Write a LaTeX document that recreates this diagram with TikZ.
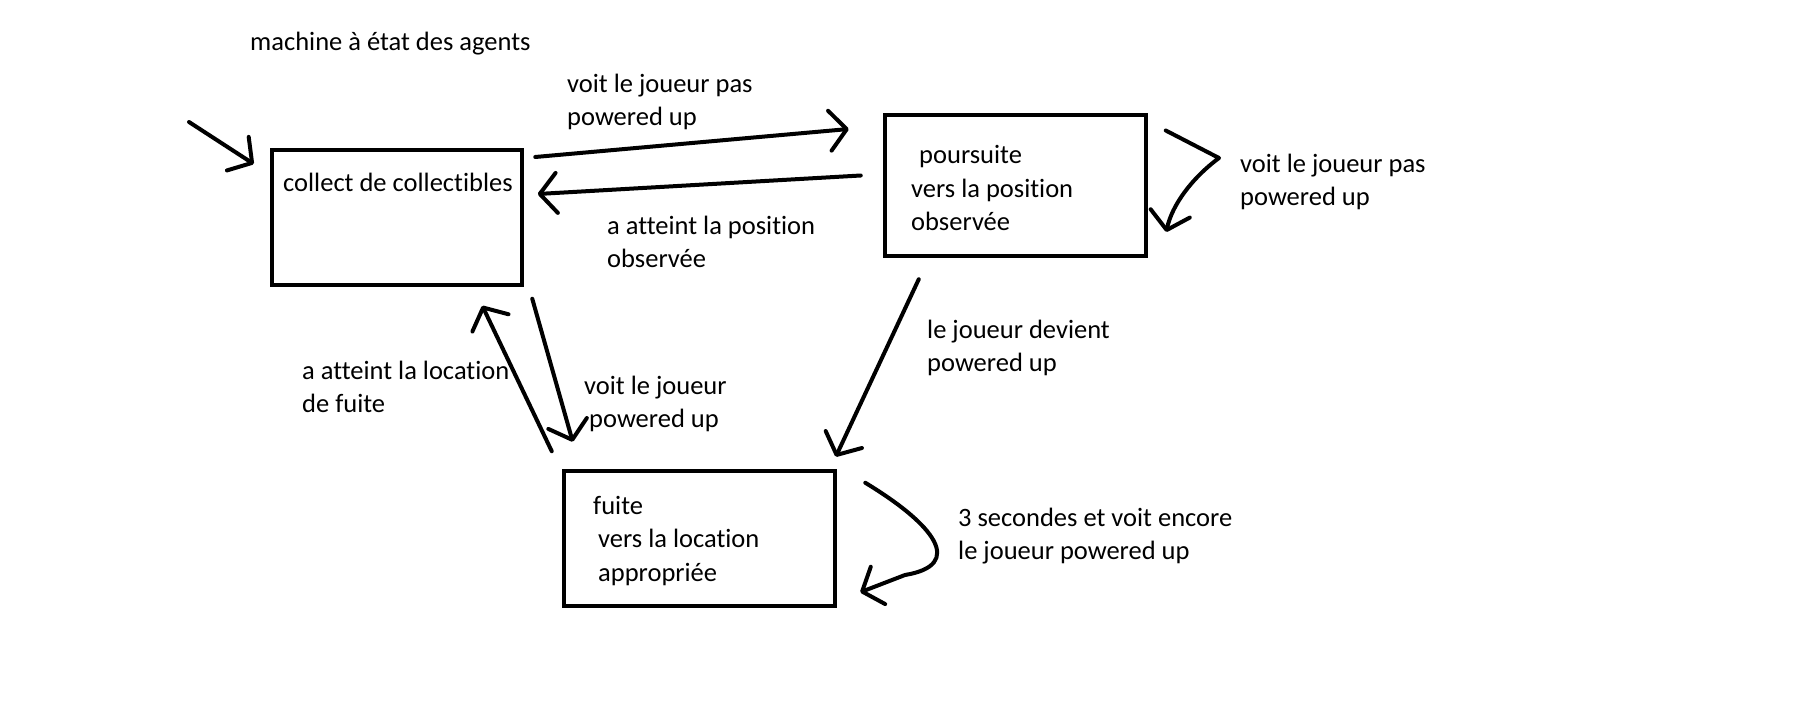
\documentclass[tikz,border=0pt]{standalone}
\usepackage{fontspec}
\setmainfont{Carlito}[Ligatures=NoCommon]
\usetikzlibrary{arrows.meta}

\begin{document}
\begin{tikzpicture}[x=1pt,y=-1pt,
        etat/.style={draw, line width=4.5pt, inner sep=0pt},
        fleche/.style={line width=4pt, line cap=round, line join=round,
            -{Straight Barb[length=17pt,width=40pt,round]}},
        texte/.style={anchor=west, align=left, inner sep=0pt,
            font=\fontsize{26.5}{33.5}\selectfont}]

        \useasboundingbox (0,0) rectangle (1810,706);

        % Titre
        \node[texte] (titre) at (250,44) {machine à état des agents};

        % Les trois états
        \node[etat, minimum width=250pt, minimum height=135pt] (collect) at (397,217.5) {};
        \node[texte] (tcollect) at (283,182) {collect de collectibles};

        \node[etat, minimum width=261pt, minimum height=141pt] (poursuite) at (1015.5,185.5) {};
        \node[texte] (tpoursuite) at (911,188) {\hspace*{8pt}poursuite\\vers la position\\observée};

        \node[etat, minimum width=271pt, minimum height=135pt] (fuite) at (699.5,538.5) {};
        \node[texte] (tfuite) at (593,541) {fuite\\\hspace*{5pt}vers la location\\\hspace*{5pt}appropriée};

        % Etat initial
        \coordinate (depart) at (189,122);
        \draw[fleche] (depart) -- ([xshift=-16pt,yshift=53.5pt]collect.west);

        % collect <-> poursuite
        \draw[fleche] ([xshift=11pt,yshift=60.5pt]collect.east) -- ([xshift=-34pt,yshift=56.5pt]poursuite.west);
        \node[texte] (lvoitpas) at (567,102) {voit le joueur pas\\powered up};

        \draw[fleche] ([xshift=-22pt,yshift=10pt]poursuite.west) -- ([xshift=13.5pt,yshift=23.5pt]collect.east);
        \node[texte] (latteintpos) at (607,242) {a atteint la position\\observée};

        % Boucle sur poursuite
        \draw[fleche] ([xshift=17.5pt,yshift=55pt]poursuite.east) -- (1219,158)
            .. controls (1192,178) and (1172,205) .. ([xshift=18pt,yshift=-46.5pt]poursuite.east);
        \node[texte] (lboucle) at (1240,182) {voit le joueur pas\\powered up};

        % poursuite -> fuite
        \draw[fleche] ([xshift=36pt,yshift=-21pt]poursuite.south west) -- ([xshift=-1.5pt,yshift=12pt]fuite.north east);
        \node[texte] (ldevient) at (927,348) {le joueur devient\\powered up};

        % collect <-> fuite
        \draw[fleche] ([xshift=8pt,yshift=-11.5pt]collect.south east) -- ([xshift=11pt,yshift=27pt]fuite.north west);
        \node[texte] (lvoit) at (584,404) {voit le joueur\\\hspace*{5pt}powered up};

        \draw[fleche] ([xshift=-10pt,yshift=17.5pt]fuite.north west) -- ([xshift=-42pt,yshift=-18.5pt]collect.south east);
        \node[texte] (latteintloc) at (302,387) {a atteint la location\\de fuite};

        % Boucle sur fuite
        \draw[fleche] ([xshift=28pt,yshift=-14pt]fuite.north east)
            .. controls (935,525) and (965,565) .. (905,575)
            -- ([xshift=23pt,yshift=16pt]fuite.south east);
        \node[texte] (lencore) at (958,536) {3 secondes et voit encore\\le joueur powered up};
    \end{tikzpicture}
\end{document}
